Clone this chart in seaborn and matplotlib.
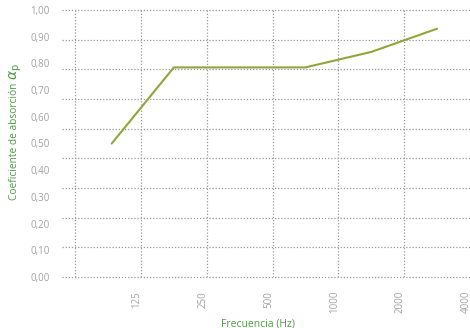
import numpy as np
import pandas as pd
import matplotlib
matplotlib.use("Agg")
import matplotlib.pyplot as plt
import matplotlib.transforms as mtrans
import seaborn as sns

# ---- data ----
freq_points = [92, 177, 354, 707, 1414, 2828]        # Hz, position of each point
alpha_p = [0.50, 0.785, 0.785, 0.785, 0.843, 0.93]  # absorption coefficient
grid_freqs = [62.5, 125, 250, 500, 1000, 2000, 4000]
tick_labels = ["", "125", "250", "500", "1000", "2000", "4000"]
y_ticks = [0.0, 0.1, 0.2, 0.3, 0.4, 0.5, 0.6, 0.7, 0.8, 0.9, 1.0]
y_tick_labels = ["0,00", "0,10", "0,20", "0,30", "0,40", "0,50",
                 "0,60", "0,70", "0,80", "0,90", "1,00"]
n_hgrid = 9  # horizontal dotted grid lines divide the axis in 9 parts

df = pd.DataFrame({"Frecuencia": freq_points, "alpha": alpha_p})

sns.set_theme(style="white")
plt.rcParams["font.family"] = ["Open Sans", "DejaVu Sans"]

W, H = 470, 328
fig = plt.figure(figsize=(W / 100, H / 100), dpi=100)
ax = fig.add_axes([62 / W, 1 - 277 / H, (470 - 62) / W, (277 - 10) / H])

line_col = "#8fa63a"
grid_col = "#9a9a9a"
text_col = "#a3a3a3"
green = "#4d9c45"

sns.lineplot(data=df, x="Frecuencia", y="alpha", ax=ax, color=line_col,
             linewidth=1.5, zorder=3)

ax.set_xscale("log")
ax.set_xlim(54.5, 4000)
ax.set_ylim(0, 1)

# vertical grid (log frequency) with labels
ax.set_xticks(grid_freqs)
ax.set_xticklabels(tick_labels, rotation=90, fontsize=7, color=text_col)
ax.xaxis.set_minor_locator(matplotlib.ticker.NullLocator())
ax.tick_params(axis="x", length=0, pad=10)
offset = mtrans.ScaledTranslation(-4 / 100, 0, fig.dpi_scale_trans)
for lab in ax.get_xticklabels():
    lab.set_transform(lab.get_transform() + offset)
for f in grid_freqs[:-1]:
    ax.axvline(f, color=grid_col, linestyle=(0, (1, 1.5)), linewidth=0.9,
               zorder=1)

# y labels at 0.1 steps, dotted grid at 1/9 steps
ax.set_yticks(y_ticks)
ax.set_yticklabels(y_tick_labels, fontsize=7, color=text_col)
ax.tick_params(axis="y", length=0, pad=9)
for k in range(n_hgrid + 1):
    ax.axhline(k / n_hgrid, color=grid_col, linestyle=(0, (1, 1.5)),
               linewidth=0.9, zorder=1, clip_on=False)

for s in ax.spines.values():
    s.set_visible(False)
ax.grid(False)

ax.set_xlabel("Frecuencia (Hz)", fontsize=7.5, color=green, labelpad=6)
ax.xaxis.set_label_coords(0.48, -0.155)

ax.set_ylabel("")
fig.text(15 / W, 1 - 141 / H, "Coeficiente de absorción", rotation=90,
         ha="center", va="center", fontsize=7.3, color=green)
fig.text(16 / W, 1 - 72 / H, r"$\alpha_{\mathrm{p}}$", rotation=90,
         ha="center", va="center", fontsize=10, color=green)

fig.savefig("out.png", dpi=100)
